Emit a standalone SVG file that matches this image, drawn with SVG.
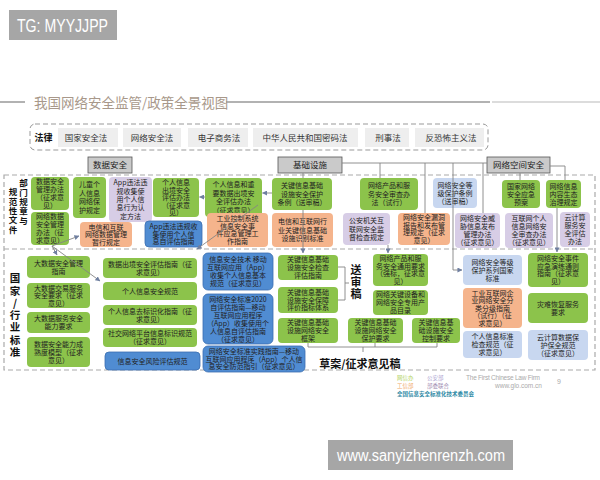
<svg xmlns="http://www.w3.org/2000/svg" width="600" height="480" viewBox="0 0 600 480">
<defs>
<style>
.t{font-family:"Noto Sans CJK SC",sans-serif;font-size:7px;fill:#222;text-anchor:middle}
.law{font-family:"Noto Sans CJK SC",sans-serif;font-size:8.5px;fill:#333;text-anchor:middle}
.lab{font-family:"Noto Sans CJK SC",sans-serif;font-size:8.5px;fill:#222;text-anchor:middle}
.vt{font-family:"Noto Sans CJK SC",sans-serif;font-weight:bold;fill:#111;text-anchor:middle}
.vv{font-family:"Noto Sans CJK SC",sans-serif;font-weight:bold;fill:#111;writing-mode:vertical-rl;text-orientation:upright}
.g{fill:#8cc34b}
.o{fill:#f5b48c}
.l{fill:#d7cde6}
.lb{fill:#c8d7f0}
.b{fill:#508cd2;stroke:#3a6db0;stroke-width:0.8}
.gl{fill:#cacaca;stroke:#555;stroke-width:0.8}
.lbg{fill:#eeeeee}
.c{fill:none;stroke:#858585;stroke-width:0.9}
.ca{fill:none;stroke:#858585;stroke-width:0.9;marker-end:url(#ah)}
.leg{font-family:"Noto Sans CJK SC",sans-serif;font-size:5.5px}
</style>
<marker id="ah" viewBox="0 0 6 6" refX="5.5" refY="3" markerWidth="5" markerHeight="5" markerUnits="userSpaceOnUse" orient="auto"><path d="M0,0L6,3L0,6z" fill="#6f7fa0"/></marker>
</defs>
<rect width="600" height="480" fill="#fff"/>

<!-- watermark boxes -->
<rect x="9" y="10" width="108" height="30" fill="#a6a6a6"/>
<text x="17" y="32" font-family="Liberation Sans, sans-serif" font-size="18" fill="#fff" textLength="91" lengthAdjust="spacingAndGlyphs">TG: MYYJJPP</text>
<rect x="328" y="440" width="185" height="30" fill="#a6a6a6"/>
<text x="337" y="461" font-family="Liberation Sans, sans-serif" font-size="16" fill="#fff" textLength="168" lengthAdjust="spacingAndGlyphs">www.sanyizhenrenzh.com</text>

<!-- title -->
<line x1="0" y1="102" x2="25" y2="102" stroke="#999" stroke-width="1.5"/>
<line x1="226" y1="102" x2="490" y2="102" stroke="#999" stroke-width="1.5"/>
<line x1="492" y1="102" x2="600" y2="102" stroke="#d0d0d0" stroke-width="1.5"/>
<text x="34" y="108" font-family="Noto Sans CJK SC, sans-serif" font-size="13.5" fill="#a8988a">我国网络安全监管/政策全景视图</text>

<!-- law row -->
<g id="laws">
<rect x="30" y="124" width="458" height="26" rx="5" fill="none" stroke="#999" stroke-width="1" stroke-dasharray="5,3"/>
<text x="43.5" y="141" class="vt" font-size="9">法律</text>
<rect class="lbg" x="58" y="128" width="60" height="19"/>
<text class="law" x="86" y="140.5">国家安全法</text>
<rect class="lbg" x="123" y="128" width="58" height="19"/>
<text class="law" x="152" y="140.5">网络安全法</text>
<rect class="lbg" x="188" y="128" width="60" height="19"/>
<text class="law" x="219" y="140.5">电子商务法</text>
<rect class="lbg" x="253" y="128" width="105" height="19"/>
<text class="law" x="305" y="140.5">中华人民共和国密码法</text>
<rect class="lbg" x="365" y="128" width="44" height="19"/>
<text class="law" x="388" y="140.5">刑事法</text>
<rect class="lbg" x="415" y="128" width="69" height="19"/>
<text class="law" x="451" y="140.5">反恐怖主义法</text>
</g>

<!-- section frames -->
<rect x="4" y="175" width="591" height="195" fill="none" stroke="#aaa" stroke-width="1.2" stroke-dasharray="5,3"/>
<line x1="4" y1="249" x2="595" y2="249" stroke="#aaa" stroke-width="1.2" stroke-dasharray="5,3"/>

<g id="side-labels">
<text class="vv" x="23.5" y="179" font-size="8.5" letter-spacing="0.8">部门规章与</text>
<text class="vv" x="13" y="188" font-size="8.5" letter-spacing="0.8">规范性文件</text>
<text class="vv" x="15" y="273" font-size="10.5" letter-spacing="1.8">国家/行业标准</text>
</g>

<!-- category labels -->
<g id="cat-data"><rect class="gl" x="88" y="157" width="44" height="16"/><text class="lab" x="110" y="168">数据安全</text></g>
<g id="cat-infra"><rect class="gl" x="278" y="157" width="64" height="16"/><text class="lab" x="310" y="168">基础设施</text></g>
<g id="cat-cyber"><rect class="gl" x="487" y="157" width="63" height="16"/><text class="lab" x="518.5" y="168">网络空间安全</text></g>

<!-- upper nodes -->
<g id="n1"><rect class="g" x="31" y="177" width="38" height="33" rx="4"/><text class="t"><tspan x="50" y="183.5">数据安全</tspan><tspan x="50" y="191.8">管理办法</tspan><tspan x="50" y="200.1">（征求意</tspan><tspan x="50" y="208.4">见）</tspan></text></g>
<g id="n2"><rect class="g" x="31" y="212" width="38" height="33" rx="4"/><text class="t"><tspan x="50" y="218.5">网络数据</tspan><tspan x="50" y="226.8">安全管理</tspan><tspan x="50" y="235.1">办法（征</tspan><tspan x="50" y="243.4">求意见）</tspan></text></g>
<g id="n3"><rect class="g" x="73" y="177" width="33" height="41" rx="4"/><text class="t"><tspan x="89.5" y="187.3">儿童个</tspan><tspan x="89.5" y="195.8">人信息</tspan><tspan x="89.5" y="204.3">网络保</tspan><tspan x="89.5" y="212.8">护规定</tspan></text></g>
<g id="n4"><rect class="l" x="109" y="177" width="43" height="45" rx="4"/><text class="t"><tspan x="130.5" y="185.2">App违法违</tspan><tspan x="130.5" y="193.6">规收集使</tspan><tspan x="130.5" y="202">用个人信</tspan><tspan x="130.5" y="210.4">息行为认</tspan><tspan x="130.5" y="218.8">定方法</tspan></text></g>
<g id="n5"><rect class="g" x="153" y="178" width="46" height="39" rx="4"/><text class="t"><tspan x="176" y="185">个人信息</tspan><tspan x="176" y="192.5">出境安全</tspan><tspan x="176" y="200">评估办法</tspan><tspan x="176" y="207.5">（征求意</tspan><tspan x="176" y="215">见）</tspan></text></g>
<g id="n6"><rect class="g" x="205" y="178" width="57" height="39" rx="4"/><text class="t"><tspan x="233.5" y="187.3">个人信息和重</tspan><tspan x="233.5" y="195.8">要数据出境安</tspan><tspan x="233.5" y="204.3">全评估办法</tspan><tspan x="233.5" y="212.8">（征求意见）</tspan></text></g>
<g id="n7"><rect class="g" x="272" y="178" width="60" height="32" rx="4"/><text class="t"><tspan x="302" y="188.2">关键信息基础</tspan><tspan x="302" y="196.5">设施安全保护</tspan><tspan x="302" y="204.8">条例（送审稿）</tspan></text></g>
<g id="n8"><rect class="g" x="360" y="178" width="58" height="32" rx="4"/><text class="t"><tspan x="389" y="188.2">网络产品和服</tspan><tspan x="389" y="196.5">务安全审查办</tspan><tspan x="389" y="204.8">法（试行）</tspan></text></g>
<g id="n9"><rect class="lb" x="433" y="178" width="44" height="30" rx="4"/><text class="t"><tspan x="455" y="187.5">网络安全等</tspan><tspan x="455" y="195.5">级保护条例</tspan><tspan x="455" y="203.5">（送审稿）</tspan></text></g>
<g id="n10"><rect class="g" x="502" y="180" width="38" height="28" rx="4"/><text class="t"><tspan x="521" y="188.5">国家网络</tspan><tspan x="521" y="196.5">安全应急</tspan><tspan x="521" y="204.5">预案</tspan></text></g>
<g id="n11"><rect class="g" x="546" y="180" width="35" height="28" rx="4"/><text class="t"><tspan x="563.5" y="188.5">网络信息</tspan><tspan x="563.5" y="196.5">内容生态</tspan><tspan x="563.5" y="204.5">治理规定</tspan></text></g>

<g id="n12"><rect class="o" x="80" y="222" width="52" height="25" rx="4"/><text class="t"><tspan x="106" y="229.5">电信和互联</tspan><tspan x="106" y="237">网络数据管理</tspan><tspan x="106" y="244.5">暂行规定</tspan></text></g>
<g id="n13"><rect class="b" x="145" y="221" width="57" height="26" rx="4"/><text class="t"><tspan x="173.5" y="228.7">App违法违规收</tspan><tspan x="173.5" y="236.5">集使用个人信</tspan><tspan x="173.5" y="244.3">息自评估指南</tspan></text></g>
<g id="n14"><rect class="o" x="207" y="213" width="61" height="34" rx="4"/><text class="t"><tspan x="237.5" y="220.8">工业控制系统</tspan><tspan x="237.5" y="228.6">信息安全事</tspan><tspan x="237.5" y="236.4">件应急管理工</tspan><tspan x="237.5" y="244.2">作指南</tspan></text></g>
<g id="n15"><rect class="o" x="272" y="213" width="61" height="34" rx="4"/><text class="t"><tspan x="302.5" y="224">电信和互联网行</tspan><tspan x="302.5" y="232.5">业关键信息基础</tspan><tspan x="302.5" y="241">设施识别标准</tspan></text></g>
<g id="n16"><rect class="l" x="343" y="213" width="47" height="32" rx="4"/><text class="t"><tspan x="366.5" y="223.2">公安机关互</tspan><tspan x="366.5" y="231.5">联网安全监</tspan><tspan x="366.5" y="239.8">督检查规定</tspan></text></g>
<g id="n17"><rect class="o" x="398" y="213" width="52" height="32" rx="4"/><text class="t"><tspan x="424" y="220.4">网络安全漏洞</tspan><tspan x="424" y="227.8">报告和发布管</tspan><tspan x="424" y="235.2">理规定（征求</tspan><tspan x="424" y="242.6">意见）</tspan></text></g>
<g id="n18"><rect class="l" x="455" y="213" width="45" height="35" rx="4"/><text class="t"><tspan x="477.5" y="221.3">网络安全威</tspan><tspan x="477.5" y="229.1">胁信息发布</tspan><tspan x="477.5" y="236.9">管理办法</tspan><tspan x="477.5" y="244.7">（征求意见）</tspan></text></g>
<g id="n19"><rect class="l" x="505" y="213" width="48" height="35" rx="4"/><text class="t"><tspan x="529" y="221.3">互联网个人</tspan><tspan x="529" y="229.1">信息网络安</tspan><tspan x="529" y="236.9">全审查办法</tspan><tspan x="529" y="244.7">（征求意见）</tspan></text></g>
<g id="n20"><rect class="l" x="560" y="212" width="30" height="35" rx="4"/><text class="t"><tspan x="575" y="220.3">云计算</tspan><tspan x="575" y="228.1">服务安</tspan><tspan x="575" y="235.9">全评估</tspan><tspan x="575" y="243.7">办法</tspan></text></g>

<!-- lower nodes -->
<g id="n21"><rect class="g" x="27" y="256" width="63" height="22" rx="4"/><text class="t"><tspan x="58.5" y="265.5">大数据安全管理</tspan><tspan x="58.5" y="273.5">指南</tspan></text></g>
<g id="n22"><rect class="g" x="27" y="283" width="63" height="25" rx="4"/><text class="t"><tspan x="58.5" y="290.5">大数据交易服务</tspan><tspan x="58.5" y="298">安全要求（征求</tspan><tspan x="58.5" y="305.5">意见）</tspan></text></g>
<g id="n23"><rect class="g" x="27" y="312" width="63" height="21" rx="4"/><text class="t"><tspan x="58.5" y="321">大数据服务安全</tspan><tspan x="58.5" y="329">能力要求</tspan></text></g>
<g id="n24"><rect class="g" x="27" y="337" width="63" height="30" rx="4"/><text class="t"><tspan x="58.5" y="346.5">数据安全能力成</tspan><tspan x="58.5" y="354.5">熟度模型（征求</tspan><tspan x="58.5" y="362.5">意见）</tspan></text></g>
<g id="n25"><rect class="g" x="103" y="258" width="94" height="20" rx="4"/><text class="t"><tspan x="150" y="266.5">数据出境安全评估指南（征</tspan><tspan x="150" y="274.5">求意见）</tspan></text></g>
<g id="n26"><rect class="g" x="103" y="282" width="94" height="18" rx="4"/><text class="t"><tspan x="150" y="293.5">个人信息安全规范</tspan></text></g>
<g id="n27"><rect class="g" x="103" y="305" width="94" height="20" rx="4"/><text class="t"><tspan x="150" y="313.5">个人信息去标识化指南（征</tspan><tspan x="150" y="321.5">求意见）</tspan></text></g>
<g id="n28"><rect class="g" x="103" y="328" width="94" height="19" rx="4"/><text class="t"><tspan x="150" y="336">社交网络平台信息标识规范</tspan><tspan x="150" y="344">（征求意见）</tspan></text></g>
<g id="n29"><rect class="b" x="105" y="352" width="95" height="18" rx="4"/><text class="t"><tspan x="152.5" y="363.5">信息安全风险评估规范</tspan></text></g>
<g id="n30"><rect class="b" x="203" y="253" width="70" height="37" rx="5"/><text class="t"><tspan x="238" y="261.7">信息安全技术 移动</tspan><tspan x="238" y="269.9">互联网应用（App）</tspan><tspan x="238" y="278.1">收集个人信息基本</tspan><tspan x="238" y="286.3">规范（征求意见）</tspan></text></g>
<g id="n31"><rect class="b" x="203" y="294" width="70" height="50" rx="5"/><text class="t"><tspan x="238" y="301.5">网络安全标准2020</tspan><tspan x="238" y="309.5">自评估指南—移动</tspan><tspan x="238" y="317.5">互联网应用程序</tspan><tspan x="238" y="325.5">（App）收集使用个</tspan><tspan x="238" y="333.5">人信息自评估指南</tspan><tspan x="238" y="341.5">（征求意见）</tspan></text></g>
<g id="n32"><rect class="b" x="203" y="346" width="102" height="26" rx="5"/><text class="t"><tspan x="254" y="353.7">网络安全标准实践指南—移动</tspan><tspan x="254" y="361.5">互联网应用程序（App）个人信</tspan><tspan x="254" y="369.3">息安全防范指引（征求意见）</tspan></text></g>
<g id="n33"><rect class="g" x="278" y="255" width="60" height="25" rx="4"/><text class="t"><tspan x="308" y="262.2">关键信息基础</tspan><tspan x="308" y="270">设施安全检查</tspan><tspan x="308" y="277.8">评估指南</tspan></text></g>
<g id="n34"><rect class="g" x="278" y="287" width="60" height="26" rx="4"/><text class="t"><tspan x="308" y="294.7">关键信息基础</tspan><tspan x="308" y="302.5">设施安全保障</tspan><tspan x="308" y="310.3">评价指标体系</tspan></text></g>
<g id="n35"><rect class="g" x="278" y="318" width="60" height="25" rx="4"/><text class="t"><tspan x="308" y="325.2">关键信息基础</tspan><tspan x="308" y="333">设施网络安全</tspan><tspan x="308" y="340.8">框架</tspan></text></g>
<g id="n36"><rect class="g" x="348" y="318" width="55" height="25" rx="4"/><text class="t"><tspan x="375.5" y="325.2">关键信息基础</tspan><tspan x="375.5" y="333">设施网络安全</tspan><tspan x="375.5" y="340.8">保护要求</tspan></text></g>
<g id="n37"><rect class="g" x="412" y="318" width="48" height="25" rx="4"/><text class="t"><tspan x="436" y="325.2">关键信息基</tspan><tspan x="436" y="333">础设施安全</tspan><tspan x="436" y="340.8">控制要求</tspan></text></g>
<g id="n38"><rect class="g" x="373" y="254" width="55" height="32" rx="4"/><text class="t"><tspan x="400.5" y="261.3">网络产品和服</tspan><tspan x="400.5" y="268.8">务安全通用要求</tspan><tspan x="400.5" y="276.3">（强标，征求意</tspan><tspan x="400.5" y="283.8">见）</tspan></text></g>
<g id="n39"><rect class="g" x="373" y="290" width="55" height="25" rx="4"/><text class="t"><tspan x="400.5" y="297.2">网络关键设备和</tspan><tspan x="400.5" y="305">网络安全专用产</tspan><tspan x="400.5" y="312.8">品目录</tspan></text></g>
<g id="n40"><rect class="lb" x="463" y="255" width="59" height="30" rx="4"/><text class="t"><tspan x="492.5" y="264.5">网络安全等级</tspan><tspan x="492.5" y="272.5">保护系列国家</tspan><tspan x="492.5" y="280.5">标准</tspan></text></g>
<g id="n41"><rect class="o" x="463" y="288" width="59" height="40" rx="4"/><text class="t"><tspan x="492.5" y="295.5">工业互联网企</tspan><tspan x="492.5" y="303">业网络安全分</tspan><tspan x="492.5" y="310.5">类分级指南</tspan><tspan x="492.5" y="318">（试行）（征</tspan><tspan x="492.5" y="325.5">求意见）</tspan></text></g>
<g id="n42"><rect class="lb" x="463" y="331" width="59" height="27" rx="4"/><text class="t"><tspan x="492.5" y="339">个人信息标准</tspan><tspan x="492.5" y="347">检查规范（征</tspan><tspan x="492.5" y="355">求意见）</tspan></text></g>
<g id="n43"><rect class="g" x="528" y="253" width="60" height="34" rx="4"/><text class="t"><tspan x="558" y="260.8">网络安全事件</tspan><tspan x="558" y="268.6">应急演练通则</tspan><tspan x="558" y="276.4">指南（征求意</tspan><tspan x="558" y="284.2">见）</tspan></text></g>
<g id="n44"><rect class="g" x="528" y="293" width="60" height="30" rx="4"/><text class="t"><tspan x="558" y="306.5">灾难恢复服务</tspan><tspan x="558" y="314.5">要求</tspan></text></g>
<g id="n45"><rect class="lb" x="528" y="330" width="60" height="30" rx="4"/><text class="t"><tspan x="558" y="339.5">云计算数据保</tspan><tspan x="558" y="347.5">护保全规范</tspan><tspan x="558" y="355.5">（征求意见）</tspan></text></g>

<!-- brackets and group labels -->
<g id="review-label">
<path class="c" d="M338,267H345V300H338M345,283H349"/>
<text class="vv" x="356" y="264" font-size="11" letter-spacing="1">送审稿</text>
</g>
<g id="draft-label">
<path class="c" d="M308,343V347H437V343M375,343V347M363,347V352"/>
<text class="vt" font-size="11" x="360" y="368">草案/征求意见稿</text>
</g>

<!-- connectors -->
<g id="connectors">
<path class="ca" d="M52,246L79,236"/>
<path class="ca" d="M52,246L100,281"/>
<path class="ca" d="M52,246L57,255"/>
<path class="ca" d="M205,197H199.5"/>
<path class="ca" d="M272,193H262.5"/>
<path class="ca" d="M258,205L197,249"/>
<path class="c" d="M303,173V178"/>
<path class="ca" d="M303,210V253"/>
<path class="c" d="M342,163H487"/>
<path class="c" d="M380,163V178"/>
<path class="c" d="M425,163V213"/>
<path class="ca" d="M453,163V270H462"/>
<path class="c" d="M483,163V213"/>
<path class="c" d="M520,173V180"/>
<path class="c" d="M550,166H565V180"/>
<path class="ca" d="M557,208V252"/>
<path class="ca" d="M388,245V253"/>
</g>

<!-- legend -->
<g id="legend">
<text class="leg" x="397" y="380" fill="#b5d46a">网信办</text>
<text class="leg" x="427" y="380" fill="#a9a0d0">公安部</text>
<text class="leg" x="397" y="387.5" fill="#f0a868">工信部</text>
<text class="leg" x="427" y="387.5" fill="#a08cb0">部委联合</text>
<text class="leg" x="397" y="395.5" fill="#2f8aa5" font-weight="bold" font-size="6.5">全国信息安全标准化技术委员会</text>
<text x="466" y="380" font-family="Liberation Sans, sans-serif" font-size="6.5" fill="#aaa" textLength="74">The First Chinese Law Firm</text>
<text x="495" y="388" font-family="Liberation Sans, sans-serif" font-size="6.5" fill="#aaa">www.glo.com.cn</text>
<text x="557" y="384" font-family="Liberation Sans, sans-serif" font-size="7" fill="#aaa">9</text>
</g>
</svg>
